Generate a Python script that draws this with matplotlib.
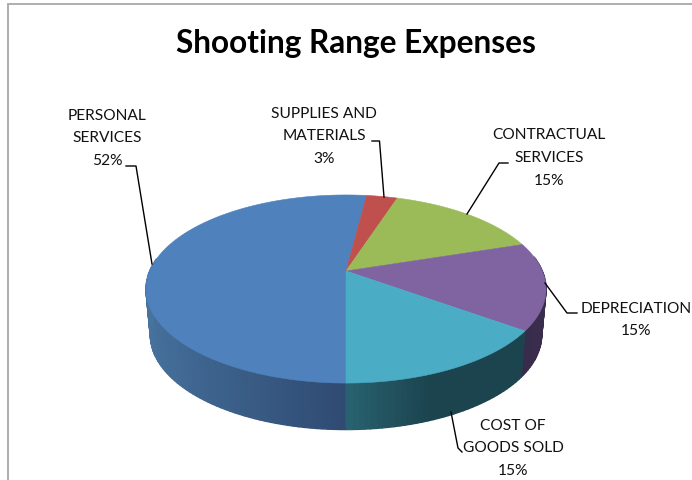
import numpy as np
import matplotlib.pyplot as plt
from matplotlib.colors import to_rgb

categories = ["PERSONAL\nSERVICES", "SUPPLIES AND\nMATERIALS", "CONTRACTUAL\nSERVICES", "DEPRECIATION", "COST OF\nGOODS SOLD"]
shares = [52, 3, 15, 15, 15]
title = "Shooting Range Expenses"

colors = ["#4f81bd", "#c0504d", "#9bbb59", "#8064a2", "#4bacc6"]
# side wall shade at the start / end of each slice
side_colors = [("#2f4a72", "#47749f"), ("#6e2e2c", "#6e2e2c"), ("#5a6d33", "#5a6d33"), ("#302541", "#3a2d4e"), ("#1c444e", "#286270")]

# where each label sits, and its leader line
label_pos = [(107, 138.5), (324, 136.5), (549, 158), (636, 320), (513, 448.5)]
leaders = [
    [(126, 166), (136, 166), (152, 264)],
    [(372, 141), (379.5, 141), (384, 197)],
    [(508, 163), (499, 163), (467, 214)],
    [(577, 313), (567, 313), (545, 283)],
    [(451, 412), (458, 448), (462, 452)],
]

PERSP = 0.1915


def rim(theta, cx, cy, a, b):
    # theta clockwise from the back of the pie, squeezed by a perspective divide
    u, v = np.sin(theta), np.cos(theta)
    d = 1 + PERSP * v
    return cx + a * u / d, cy - b * v / d


def mix(c1, c2, t):
    return tuple((1 - t) * x + t * y for x, y in zip(to_rgb(c1), to_rgb(c2)))


def main() -> None:
    plt.rcParams["font.family"] = ["Lato", "DejaVu Sans"]
    fig = plt.figure(figsize=(6.92, 4.8), dpi=100)
    ax = fig.add_axes([0, 0, 1, 1])
    ax.set_xlim(0, 692)
    ax.set_ylim(480, 0)
    ax.axis("off")

    ax.plot([7.5, 7.5, 692], [480, 4, 4], color="#a8a8a8", lw=1.3, solid_joinstyle="miter")

    # first slice begins at the front and runs clockwise round the left side
    edges = np.pi + np.cumsum([0] + shares) / sum(shares) * 2 * np.pi
    top = (346, 271, 196.3, 90.6)
    low = (346, 317, 192, 91)

    # side wall first, the top face covers what is out of sight
    for i in range(len(shares)):
        steps = max(2, int((edges[i + 1] - edges[i]) * 40))
        ts = np.linspace(edges[i], edges[i + 1], steps + 1)
        for t0, t1 in zip(ts[:-1], ts[1:]):
            if np.cos((t0 + t1) / 2) > 0.15:
                continue
            x0, y0 = rim(np.array([t0, t1]), *top)
            x1, y1 = rim(np.array([t1, t0]), *low)
            tone = abs(np.sin((t0 + t1) / 2))
            if i == 4:
                tone = 1 - min(1.0, tone / 0.35) if np.sin((t0 + t1) / 2) > 0 else 1
            col = mix(side_colors[i][0], side_colors[i][1], tone)
            ax.fill(np.r_[x0, x1], np.r_[y0, y1], color=col, lw=1.0, zorder=2)

    # top face
    for i in range(len(shares)):
        ts = np.linspace(edges[i], edges[i + 1], 160)
        x, y = rim(ts, *top)
        ax.fill(np.r_[top[0], x], np.r_[top[1], y], color=colors[i], lw=0.4, zorder=3)

    for pts in leaders:
        xs, ys = zip(*pts)
        ax.plot(xs, ys, color="black", lw=1.0, zorder=4)

    for name, share, (x, y) in zip(categories, shares, label_pos):
        ax.text(x, y, f"{name}\n{share}%", ha="center", va="center", fontsize=11.2, color="#111111",
                linespacing=1.78, zorder=5)
    ax.text(356, 43, title, ha="center", va="center", fontsize=22.8, fontweight="bold", color="black")

    fig.savefig("out.png", dpi=100)


if __name__ == "__main__":
    main()
